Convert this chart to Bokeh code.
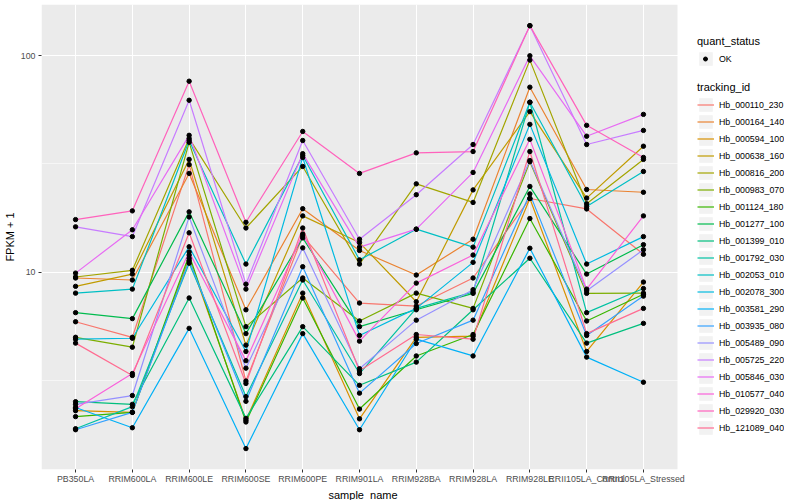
from bokeh.plotting import figure
from bokeh.models import (Range1d, FixedTicker, Legend, LegendItem, BoxAnnotation, Title,
                          ColumnDataSource, PrintfTickFormatter)
from bokeh.embed import file_html
from bokeh.resources import INLINE

samples = ["PB350LA", "RRIM600LA", "RRIM600LE", "RRIM600SE", "RRIM600PE", "RRIM901LA",
           "RRIM928BA", "RRIM928LA", "RRIM928LE", "RRII105LA_Control", "RRII105LA_Stressed"]

tracking_ids = ["Hb_000110_230", "Hb_000164_140", "Hb_000594_100", "Hb_000638_160",
                "Hb_000816_200", "Hb_000983_070", "Hb_001124_180", "Hb_001277_100",
                "Hb_001399_010", "Hb_001792_030", "Hb_002053_010", "Hb_002078_300",
                "Hb_003581_290", "Hb_003935_080", "Hb_005489_090", "Hb_005725_220",
                "Hb_005846_030", "Hb_010577_040", "Hb_029920_030", "Hb_121089_040"]

colors = ["#F8766D", "#EA8331", "#D89000", "#C09B00", "#A3A500", "#7CAE00", "#39B600",
          "#00BB4E", "#00BF7D", "#00C1A3", "#00BFC4", "#00BAE0", "#00B0F6", "#35A2FF",
          "#9590FF", "#C77CFF", "#E76BF3", "#FA62DB", "#FF62BC", "#FF6C91"]

# FPKM + 1 per sample (same order as samples)
Hb_000110_230 = [5.9, 5.0, 31.4, 3.14, 14.7, 7.2, 6.97, 9.4, 21.9, 19.6, 12.1]
Hb_000164_140 = [9.4, 9.2, 28.6, 6.7, 19.65, 12.6, 9.7, 14.2, 71.6, 24.1, 23.4]
Hb_000594_100 = [2.29, 2.25, 11.6, 2.07, 8.0, 2.10, 5.0, 5.06, 21.9, 4.3, 9.0]
Hb_000638_160 = [8.6, 9.8, 33.2, 4.6, 18.2, 13.7, 7.3, 24.0, 55.2, 22.0, 38.2]
Hb_000816_200 = [9.5, 10.2, 41.5, 16.0, 30.8, 10.9, 25.6, 21.0, 95.5, 20.7, 33.2]
Hb_000983_070 = [5.0, 4.5, 39.8, 5.6, 9.4, 5.95, 8.0, 6.8, 32.4, 7.98, 8.0]
Hb_001124_180 = [2.15, 2.25, 12.0, 2.03, 7.6, 2.33, 4.1, 5.15, 17.7, 5.95, 7.9]
Hb_001277_100 = [6.5, 6.1, 19.0, 5.2, 14.4, 5.6, 6.7, 7.98, 24.9, 9.8, 13.4]
Hb_001399_010 = [2.52, 2.45, 7.6, 2.11, 5.6, 3.0, 3.84, 6.7, 11.6, 4.7, 5.8]
Hb_001792_030 = [1.89, 2.39, 11.0, 2.66, 9.2, 3.4, 6.8, 8.1, 61.0, 6.5, 8.4]
Hb_002053_010 = [8.0, 8.35, 40.6, 10.9, 34.6, 11.4, 15.8, 13.05, 61.0, 20.1, 29.2]
Hb_002078_300 = [4.9, 4.95, 13.1, 4.3, 33.9, 5.1, 6.8, 11.1, 48.2, 10.9, 14.6]
Hb_003581_290 = [2.37, 1.91, 5.5, 1.53, 5.2, 1.87, 4.9, 4.1, 12.9, 4.05, 3.1]
Hb_003935_080 = [1.87, 2.25, 11.3, 2.53, 10.6, 2.76, 4.68, 6.0, 23.0, 5.1, 7.75]
Hb_005489_090 = [2.45, 2.69, 18.0, 3.6, 12.95, 3.58, 6.0, 8.3, 32.8, 8.2, 12.7]
Hb_005725_220 = [16.2, 14.6, 62.3, 8.8, 40.6, 14.2, 22.8, 38.9, 137.8, 38.9, 45.2]
Hb_005846_030 = [9.9, 15.7, 42.9, 8.35, 35.3, 13.05, 15.8, 28.9, 100.0, 42.5, 53.6]
Hb_010577_040 = [2.34, 3.4, 12.4, 3.9, 15.0, 4.8, 8.9, 12.0, 41.1, 8.35, 18.2]
Hb_029920_030 = [17.5, 19.2, 76.3, 17.0, 44.7, 28.6, 35.6, 36.1, 137.8, 47.7, 33.9]
Hb_121089_040 = [4.7, 3.33, 15.2, 3.06, 16.0, 3.5, 5.15, 4.9, 36.1, 5.2, 6.8]

series = [Hb_000110_230, Hb_000164_140, Hb_000594_100, Hb_000638_160, Hb_000816_200,
          Hb_000983_070, Hb_001124_180, Hb_001277_100, Hb_001399_010, Hb_001792_030,
          Hb_002053_010, Hb_002078_300, Hb_003581_290, Hb_003935_080, Hb_005489_090,
          Hb_005725_220, Hb_005846_030, Hb_010577_040, Hb_029920_030, Hb_121089_040]

y_ticks = [10, 100]
y_minor = [3.1623, 31.623]

FONT = "Liberation Sans"
NAN = float("nan")

# discrete positions of the samples along x
xpos = list(range(len(samples)))
PAD = 0.6                      # ggplot discrete expansion
PX_PER_UNIT = 642 / (len(samples) - 1 + 2 * PAD)
LEGEND_PX = 108                # space to the right of the panel (legend)
x_lo = -PAD
x_hi_panel = len(samples) - 1 + PAD
x_hi = x_hi_panel + LEGEND_PX / PX_PER_UNIT

p = figure(width=784, height=500,
           x_range=Range1d(x_lo, x_hi), y_range=Range1d(1.2246, 172.6), y_axis_type="log",
           output_backend="svg", toolbar_location=None,
           min_border_left=34, min_border_right=0, min_border_top=4, min_border_bottom=30)

p.background_fill_color = "white"
p.border_fill_color = "white"
p.outline_line_color = None

panel = BoxAnnotation(left=x_lo, right=x_hi_panel, fill_color="#EBEBEB", fill_alpha=1.0,
                      line_color=None, level="image")
p.add_layout(panel)

p.xgrid.grid_line_color = "white"
p.xgrid.grid_line_width = 1.1
p.ygrid.grid_line_color = "white"
p.ygrid.grid_line_width = 1.1
p.ygrid.minor_grid_line_color = "white"
p.ygrid.minor_grid_line_width = 0.55

p.xaxis.ticker = FixedTicker(ticks=xpos, minor_ticks=[])
p.xaxis.major_label_overrides = {i: s for i, s in zip(xpos, samples)}
p.yaxis.ticker = FixedTicker(ticks=y_ticks, minor_ticks=y_minor)
p.yaxis.formatter = PrintfTickFormatter(format="%d")

for ax in (p.xaxis, p.yaxis):
    ax.axis_line_color = None
    ax.major_tick_line_color = "#333333"
    ax.major_tick_out = 3
    ax.major_tick_in = 0
    ax.minor_tick_line_color = None
    ax.major_label_text_color = "#4D4D4D"
    ax.major_label_text_font_size = "8.8px"
    ax.major_label_text_font = FONT
    ax.major_label_standoff = 2
    ax.axis_label_text_font = FONT
    ax.axis_label_text_font_size = "11px"
    ax.axis_label_text_font_style = "normal"
    ax.axis_label_text_color = "black"
    ax.axis_label_standoff = 2
p.xaxis.major_label_standoff = 1

p.yaxis.axis_label = "FPKM + 1"
p.xaxis.axis_label = None

xtitle = Title(text="sample_name", align="left", offset=287, text_font=FONT,
               text_font_size="11px", text_font_style="normal", text_color="black",
               standoff=0)
p.add_layout(xtitle, "below")

line_renderers = []
for vals, col in zip(series, colors):
    r = p.line(x=xpos, y=vals, line_color=col, line_width=1.2)
    line_renderers.append(r)

all_x = [x for vals in series for x in xpos]
all_y = [v for vals in series for v in vals]
pts = p.scatter(x="x", y="y", source=ColumnDataSource(dict(x=all_x, y=all_y)),
                marker="circle", size=4.4, fill_color="black", line_color="black")

# legend-key background (grey95 squares), no visible data
bg = p.quad(left=[NAN], right=[NAN], top=[NAN], bottom=[NAN],
            fill_color="#F2F2F2", line_color=None)


def style_legend(lg, glyph_w=17):
    lg.label_text_font = FONT
    lg.label_text_font_size = "8.8px"
    lg.label_text_color = "black"
    lg.title_text_font = FONT
    lg.title_text_font_size = "11px"
    lg.title_text_font_style = "normal"
    lg.title_text_color = "black"
    lg.glyph_width = glyph_w
    lg.glyph_height = 17
    lg.label_height = 17
    lg.spacing = 0
    lg.padding = 0
    lg.margin = 0
    lg.label_standoff = 5
    lg.title_standoff = 3
    lg.border_line_color = None
    lg.background_fill_alpha = 0


LEG_X = 656
OK_Y = 402
# quant_status: key background + title
legend_okbg = Legend(items=[LegendItem(label="OK", renderers=[bg])],
                     title="quant_status", location=(LEG_X, OK_Y))
style_legend(legend_okbg)
legend_okbg.label_text_alpha = 0
p.add_layout(legend_okbg)

# quant_status: small dot + label drawn on top of the key background
legend_ok = Legend(items=[LegendItem(label="OK", renderers=[pts])],
                   location=(LEG_X + 3, OK_Y))
style_legend(legend_ok, glyph_w=10)
legend_ok.label_standoff = 9
p.add_layout(legend_ok)

legend_ids = Legend(items=[LegendItem(label=t, renderers=[bg, r])
                           for t, r in zip(tracking_ids, line_renderers)],
                    title="tracking_id", location=(LEG_X, 33))
style_legend(legend_ids)
p.add_layout(legend_ids)

open("out.html", "w").write(file_html(p, INLINE))
